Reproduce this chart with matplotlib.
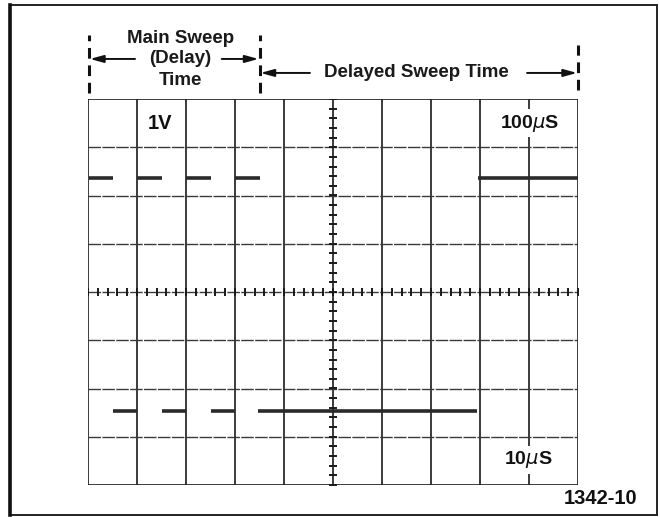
import matplotlib
matplotlib.use("Agg")
import matplotlib.pyplot as plt
import numpy as np
from matplotlib.patches import Rectangle

# ---- data (in graticule divisions: x 0..10, y -4..4) ----
x_divisions = 10
y_divisions = 8
upper_level = 2.36
upper_starts = [0.02, 1.0, 2.0, 3.0, 7.96]
upper_ends = [0.52, 1.52, 2.52, 3.5, 10.0]
lower_level = -2.47
lower_starts = [0.5, 1.5, 2.5, 3.47]
lower_ends = [1.0, 2.0, 3.0, 7.94]
minor_step = 0.2
main_sweep_label = ["Main Sweep", "(Delay)", "Time"]
delayed_label = "Delayed Sweep Time"
volts_label = "1V"
main_time_label = "100$\\mu$S"
delayed_time_label = "10$\\mu$S"
figure_id = "1342-10"

FONT = "Liberation Sans"

W, H = 660, 517
fig = plt.figure(figsize=(W / 100, H / 100), dpi=100)
fig.patch.set_facecolor("white")

# outer frame
fig.add_artist(Rectangle((10 / W, 1 - 515 / H), 647 / W, 510 / H,
                         transform=fig.transFigure, fill=False,
                         edgecolor="#222222", lw=1.4))
fig.add_artist(plt.Line2D([10 / W, 10 / W], [1 - 515 / H, 1 - 5 / H],
                          transform=fig.transFigure, color="#111111", lw=2.6))

ax = fig.add_axes([88 / W, (H - 485) / H, 490 / W, 386 / H])
ax.set_xlim(0, x_divisions)
ax.set_ylim(-y_divisions / 2, y_divisions / 2)
ax.axis("off")

# graticule
for xv in range(x_divisions + 1):
    ax.plot([xv, xv], [-4, 4], color="#1a1a1a", lw=1.2, solid_capstyle="butt", zorder=1)
for yv in range(-4, 5):
    if yv in (-4, 4):
        ax.plot([0, 10], [yv, yv], color="#1a1a1a", lw=1.2, zorder=1)
    else:
        ax.plot([0, 10], [yv, yv], color="#3a3a3a", lw=1.0,
                linestyle=(0, (9, 1.0)), zorder=1)

# minor ticks on center lines
ticks_y = np.arange(-4, 4 + 1e-9, minor_step)
ticks_x = np.arange(0, 10 + 1e-9, minor_step)
ax.plot(np.full_like(ticks_y, 5.0), ticks_y, linestyle="none", marker="_",
        markersize=6, mew=1.4, color="#1a1a1a", zorder=2)
ax.plot(ticks_x, np.zeros_like(ticks_x), linestyle="none", marker="|",
        markersize=6, mew=1.4, color="#1a1a1a", zorder=2)

# traces
for s, e in zip(upper_starts, upper_ends):
    ax.plot([s, e], [upper_level, upper_level], color="#2a2a2a", lw=2.6,
            solid_capstyle="butt", zorder=3)
for s, e in zip(lower_starts, lower_ends):
    ax.plot([s, e], [lower_level, lower_level], color="#2a2a2a", lw=2.6,
            solid_capstyle="butt", zorder=3)

# labels inside graticule
box = dict(facecolor="white", edgecolor="none", pad=2.5)
ax.text(1.47, 3.5, volts_label, ha="center", va="center", fontsize=14.5,
        fontweight="bold", family=FONT, color="#111111", zorder=4)
ax.text(9.02, 3.5, main_time_label, ha="center", va="center", fontsize=14,
        fontweight="bold", family=FONT, color="#111111", bbox=box, zorder=4)
ax.text(8.98, -3.48, delayed_time_label, ha="center", va="center", fontsize=14,
        fontweight="bold", family=FONT, color="#111111", bbox=box, zorder=4)
ax.text(10.47, -4.27, figure_id, ha="center", va="center", fontsize=14.5,
        fontweight="bold", family=FONT, color="#111111", clip_on=False)

# sweep-time markers above graticule
dash = (0, (3.5, 2.2))
ax.plot([0.02, 0.02], [4.12, 5.33], color="#111111", lw=2.2, linestyle=dash, clip_on=False)
ax.plot([3.5, 3.5], [4.12, 5.33], color="#111111", lw=2.2, linestyle=dash, clip_on=False)
ax.plot([10.0, 10.0], [4.19, 5.12], color="#111111", lw=2.2, linestyle=dash, clip_on=False)

for txt, yy in zip(main_sweep_label, [5.26, 4.83, 4.39]):
    ax.text(1.88, yy, txt, ha="center", va="center", fontsize=13.5,
            fontweight="bold", family=FONT, color="#1a1a1a", clip_on=False)
ax.text(6.71, 4.54, delayed_label, ha="center", va="center", fontsize=13.5,
        fontweight="bold", family=FONT, color="#1a1a1a", clip_on=False)

arrow = dict(arrowstyle="-|>,head_length=0.8,head_width=0.22", color="#111111",
             lw=1.4, shrinkA=0, shrinkB=0)
ax.annotate("", xy=(0.04, 4.83), xytext=(0.96, 4.83), arrowprops=arrow, annotation_clip=False)
ax.annotate("", xy=(3.48, 4.83), xytext=(2.73, 4.83), arrowprops=arrow, annotation_clip=False)
ax.annotate("", xy=(3.52, 4.54), xytext=(4.53, 4.54), arrowprops=arrow, annotation_clip=False)
ax.annotate("", xy=(9.98, 4.54), xytext=(8.96, 4.54), arrowprops=arrow, annotation_clip=False)

fig.savefig("out.png", dpi=100, facecolor="white")
